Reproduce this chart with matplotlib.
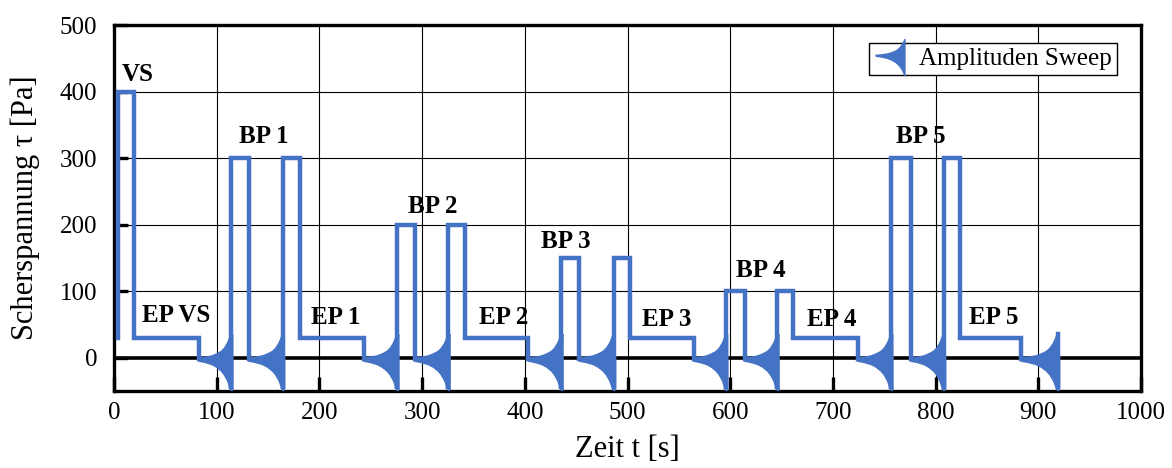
import numpy as np
import matplotlib
matplotlib.use("Agg")
import matplotlib.pyplot as plt
from matplotlib.lines import Line2D
from matplotlib.path import Path

BLUE = "#4472C4"

# hold segments of the stress program; nan marks an amplitude sweep
seg_start = [3.7, 19.3, 82.6, 114.1, 131.3, 164.4, 181.3, 243.0, 275.8, 292.6,
             325.7, 342.0, 403.6, 435.7, 453.2, 486.4, 502.0, 564.3, 596.0, 614.0,
             646.0, 661.6, 724.0, 756.8, 775.6, 807.7, 824.2, 883.4]
seg_end = seg_start[1:] + [918.7]
seg_level = [400, 30, np.nan, 300, np.nan, 300, 30, np.nan, 200, np.nan,
             200, 30, np.nan, 150, np.nan, 150, 30, np.nan, 100, np.nan,
             100, 30, np.nan, 300, np.nan, 300, 30, np.nan]
start_level = 30

# envelope of one amplitude sweep (fraction of sweep duration -> Pa)
sweep_frac = [0.0, 0.2, 0.4, 0.55, 0.7, 0.8, 0.9, 0.95, 1.0]
sweep_upper = [-1, 0, 2, 5, 9, 14, 22, 28, 35]
sweep_lower = [-3, -5, -8, -12, -18, -24, -33, -40, -47]

labels = ["VS", "EP VS", "BP 1", "EP 1", "BP 2", "EP 2",
          "BP 3", "EP 3", "BP 4", "EP 4", "BP 5", "EP 5"]
label_x = [23, 61, 146, 216, 310, 379, 440, 538, 630, 699, 786, 857]
label_y = [425, 63, 333, 60, 228, 60, 175, 57, 131, 58, 332, 60]

plt.rcParams['font.family'] = ['Liberation Serif', 'DejaVu Serif']

fig = plt.figure(figsize=(11.72, 4.68), dpi=100)
ax = fig.add_axes([114 / 1172, 1 - 391 / 468, (1141 - 114) / 1172, (391 - 25) / 468])

ax.set_xlim(0, 1000)
ax.set_ylim(-50, 500)
ax.set_xticks(np.arange(0, 1001, 100))
ax.set_yticks(np.arange(0, 501, 100))
ax.grid(True, color='black', linewidth=0.8)
ax.set_axisbelow(True)
ax.axhline(0, color='black', linewidth=2.6, zorder=1.5)

for s in ax.spines.values():
    s.set_linewidth(2.4)
ax.tick_params(direction='in', length=10, width=2.4, labelsize=18)
ax.tick_params(axis='y', pad=12)
ax.tick_params(axis='x', pad=8)

# build the line path
base = (sweep_upper[0] + sweep_lower[0]) / 2
xs = [seg_start[0]]
ys = [start_level]
frac = np.array(sweep_frac)
for t0, t1, lev in zip(seg_start, seg_end, seg_level):
    if np.isnan(lev):
        tt = t0 + frac * (t1 - t0)
        ax.fill_between(tt, sweep_lower, sweep_upper, facecolor=BLUE,
                        edgecolor=BLUE, linewidth=2.5, zorder=3)
        xs += [t0, t1, t1]
        ys += [base, base, sweep_lower[-1]]
        if t1 == seg_end[-1]:
            xs.append(t1)
            ys.append(sweep_upper[-1])
    else:
        xs += [t0, t1]
        ys += [lev, lev]

ax.plot(xs, ys, color=BLUE, linewidth=3.2, solid_joinstyle='miter', zorder=3)

for lab, lx, ly in zip(labels, label_x, label_y):
    ax.text(lx, ly, lab, fontsize=18, fontweight='bold', ha='center', va='center', zorder=4)

ax.set_xlabel("Zeit t [s]", fontsize=22, labelpad=8)
ax.set_ylabel("Scherspannung τ [Pa]", fontsize=22, labelpad=14)

# legend icon: the sweep envelope itself
verts = [(f, u) for f, u in zip(sweep_frac, sweep_upper)]
verts += [(f, l) for f, l in zip(sweep_frac[::-1], sweep_lower[::-1])]
verts = np.array(verts, dtype=float)
verts[:, 0] = verts[:, 0] * 1.6 - 0.8
verts[:, 1] = (verts[:, 1] - np.mean([sweep_upper[-1], sweep_lower[-1]])) / 41
icon = Path(np.vstack([verts, verts[:1]]), closed=True)
handle = Line2D([], [], linestyle='none', marker=icon, markersize=26,
                color=BLUE, markeredgecolor=BLUE)
leg = ax.legend([handle], ["Amplituden Sweep"], loc='upper right',
                bbox_to_anchor=(0.9885, 0.985), fontsize=18, frameon=True,
                fancybox=False, edgecolor='black', framealpha=1,
                borderpad=0.2, handletextpad=0.5, handlelength=1.3)
leg.get_frame().set_linewidth(1.0)

fig.savefig("out.png", dpi=100)
